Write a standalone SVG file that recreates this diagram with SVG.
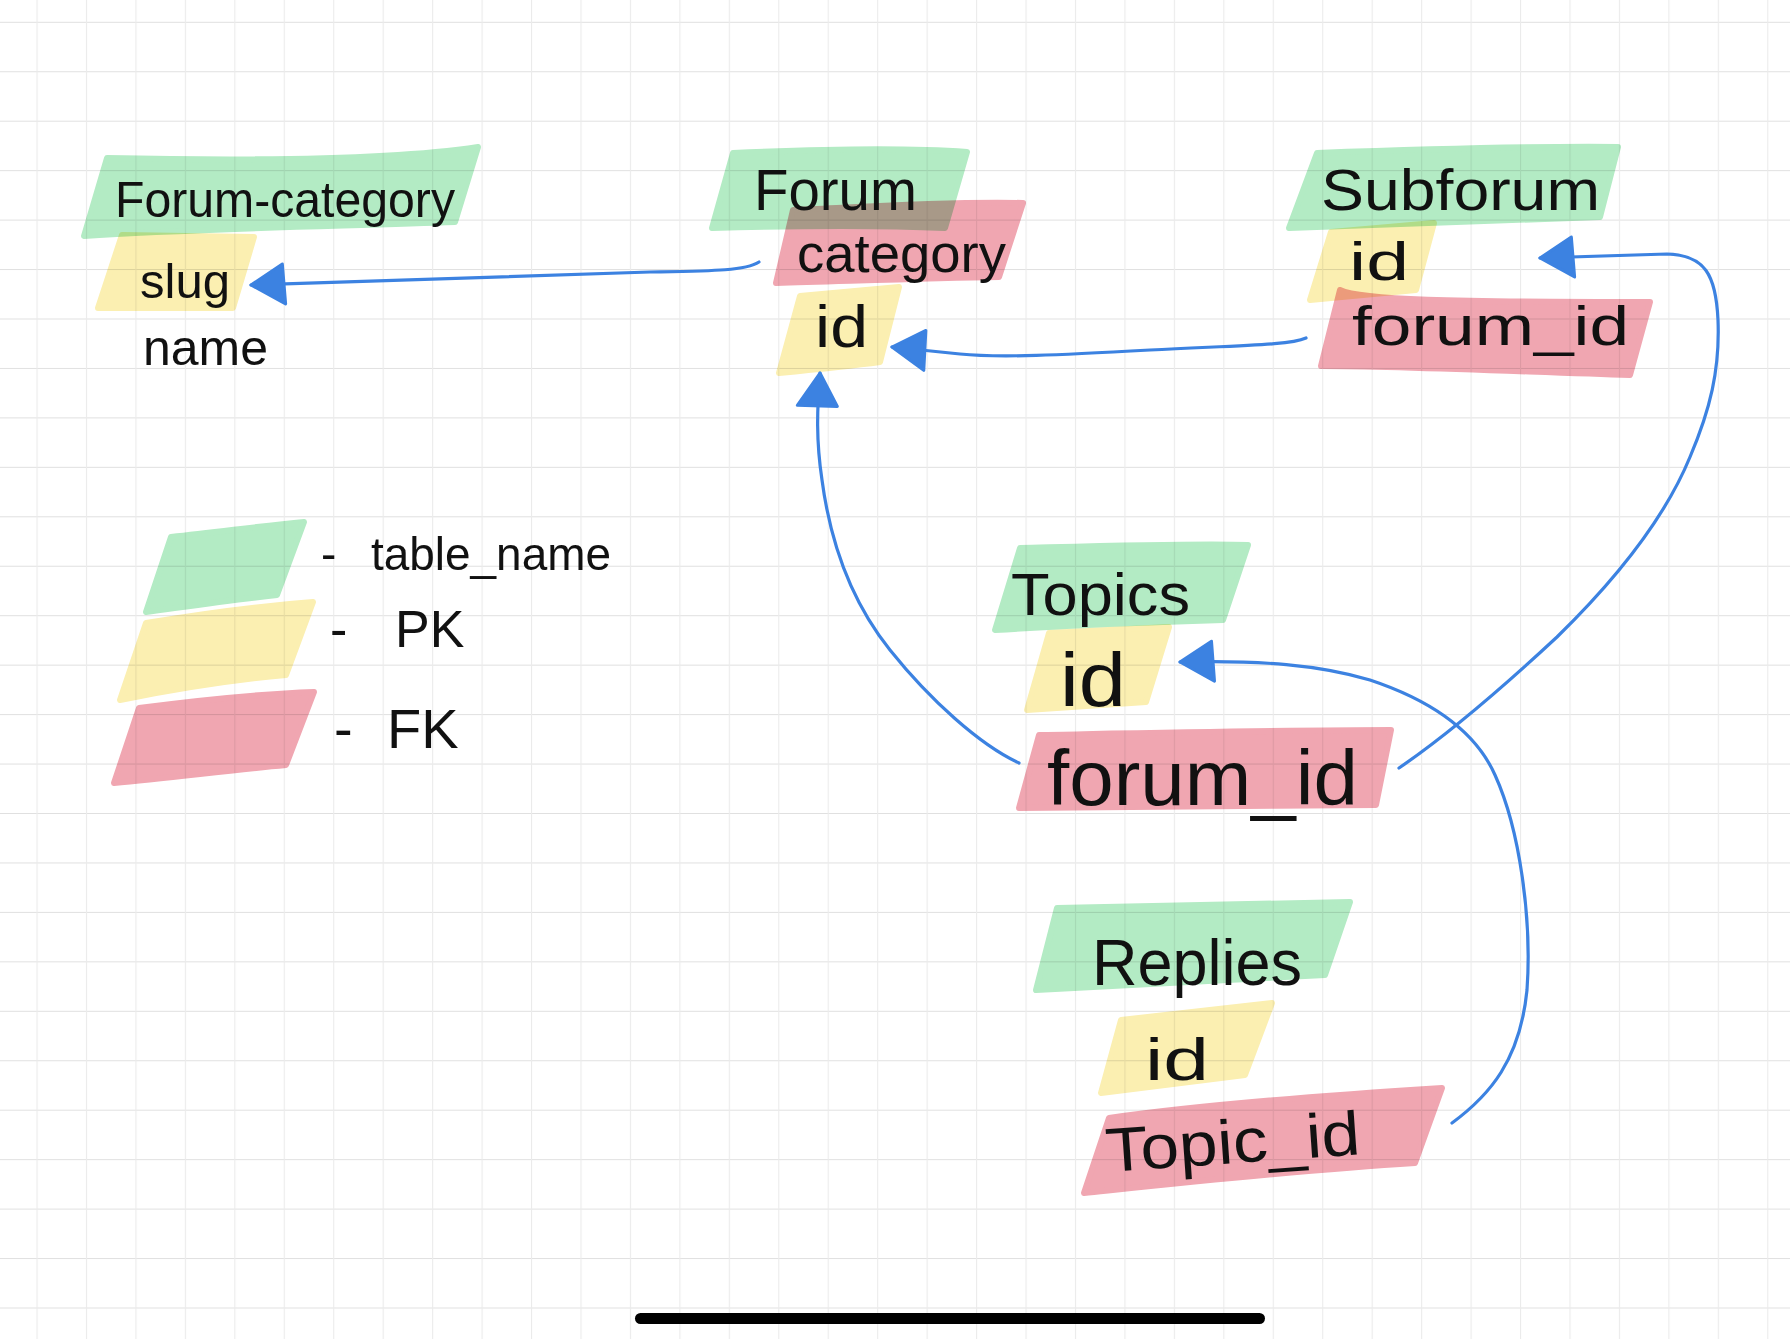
<svg xmlns="http://www.w3.org/2000/svg" width="1790" height="1339" viewBox="0 0 1790 1339">
<defs>
<pattern id="grid" x="36.5" y="21.8" width="49.45" height="49.45" patternUnits="userSpaceOnUse">
<path d="M0 0.5 H49.45" stroke="#e0e0e0" stroke-width="1.2" fill="none"/>
<path d="M0.5 0 V49.45" stroke="#ebebeb" stroke-width="1.2" fill="none"/>
</pattern>
<marker id="ah" viewBox="0 0 40 46" refX="38" refY="23" markerWidth="40" markerHeight="46" markerUnits="userSpaceOnUse" orient="auto">
<path d="M38 23 L4 3 L6 43 Z" fill="#3c82e1" stroke="#3c82e1" stroke-width="3" stroke-linejoin="round"/>
</marker>
<style>
.g{fill:#b3ebc4;mix-blend-mode:multiply;stroke:#b3ebc4;stroke-width:6;stroke-linejoin:round}
.y{fill:#fbefb1;mix-blend-mode:multiply;stroke:#fbefb1;stroke-width:6;stroke-linejoin:round}
.r{fill:#f0a6b1;mix-blend-mode:multiply;stroke:#f0a6b1;stroke-width:6;stroke-linejoin:round}
.t{font-family:"Liberation Sans",Arial,sans-serif;fill:#111}
.c{fill:none;stroke:#3c82e1;stroke-width:3.2;stroke-linecap:round;stroke-linejoin:round}
</style>
</defs>
<rect width="1790" height="1339" fill="#ffffff"/>
<rect width="1790" height="1339" fill="url(#grid)"/>

<g id="forum-category">
<path class="g" d="M107 158 C200 160 380 162 478 147 L455 222 C350 226 200 228 84 236 Z"/>
<path class="y" d="M122 235 L254 237 L233 308 L98 308 Z"/>
<text class="t" x="115" y="217" font-size="50" textLength="340" lengthAdjust="spacingAndGlyphs">Forum-category</text>
<text class="t" x="140" y="298" font-size="48" textLength="90" lengthAdjust="spacingAndGlyphs">slug</text>
<text class="t" x="143" y="365" font-size="50" textLength="125" lengthAdjust="spacingAndGlyphs">name</text>
</g>

<g id="forum">
<path class="g" d="M733 153 C800 150 900 147 967 152 L945 228 C880 225 780 226 712 228 Z"/>
<path class="r" d="M793 210 C860 207 950 201 1023 203 L999 277 C930 278 850 281 776 283 Z"/>
<path class="y" d="M800 296 L899 287 L880 362 C850 366 810 370 779 373 Z"/>
<text class="t" x="754" y="210" font-size="58" textLength="163" lengthAdjust="spacingAndGlyphs">Forum</text>
<text class="t" x="797" y="272" font-size="54" textLength="209" lengthAdjust="spacingAndGlyphs">category</text>
<text class="t" x="815" y="347" font-size="60" textLength="53" lengthAdjust="spacingAndGlyphs">id</text>
</g>

<g id="subforum">
<path class="g" d="M1317 153 C1400 150 1520 146 1618 147 L1600 217 C1500 220 1400 224 1289 228 Z"/>
<path class="y" d="M1331 232 L1434 223 L1416 290 L1310 300 Z"/>
<path class="r" d="M1340 290 C1360 300 1450 302 1650 302 L1630 375 C1530 372 1400 366 1321 366 Z"/>
<text class="t" x="1321" y="210" font-size="58" textLength="279" lengthAdjust="spacingAndGlyphs">Subforum</text>
<text class="t" x="1349" y="280" font-size="54" textLength="60" lengthAdjust="spacingAndGlyphs">id</text>
<text class="t" x="1352" y="345" font-size="56" textLength="277" lengthAdjust="spacingAndGlyphs">forum_id</text>
</g>

<g id="topics">
<path class="g" d="M1020 548 C1100 546 1200 543 1248 545 L1223 620 C1150 622 1060 626 995 630 Z"/>
<path class="y" d="M1049 633 L1169 627 L1146 702 L1027 710 Z"/>
<path class="r" d="M1039 735 C1150 733 1300 730 1391 730 L1376 805 C1250 806 1100 807 1019 808 Z"/>
<text class="t" x="1011" y="615" font-size="60" textLength="179" lengthAdjust="spacingAndGlyphs">Topics</text>
<text class="t" x="1060" y="706" font-size="76" textLength="66" lengthAdjust="spacingAndGlyphs">id</text>
<text class="t" x="1047" y="805" font-size="78" textLength="311" lengthAdjust="spacingAndGlyphs">forum_id</text>
</g>

<g id="replies">
<path class="g" d="M1057 908 C1150 906 1250 904 1350 902 L1325 975 C1230 980 1130 985 1036 990 Z"/>
<path class="y" d="M1121 1020 L1272 1003 L1245 1075 L1101 1093 Z"/>
<path class="r" d="M1109 1118 C1200 1105 1330 1095 1442 1088 L1415 1163 C1300 1170 1180 1183 1084 1193 Z"/>
<text class="t" x="1092" y="985" font-size="64" textLength="210" lengthAdjust="spacingAndGlyphs">Replies</text>
<text class="t" x="1145" y="1080" font-size="60" textLength="64" lengthAdjust="spacingAndGlyphs">id</text>
<text class="t" x="1107" y="1172" font-size="62" textLength="255" lengthAdjust="spacingAndGlyphs" transform="rotate(-4 1107 1172)">Topic_id</text>
</g>

<g id="legend">
<path class="g" d="M171 537 C220 532 260 526 304 522 L277 595 C230 600 190 606 146 612 Z"/>
<path class="y" d="M146 623 C200 614 260 606 313 602 L286 675 C230 680 170 690 120 700 Z"/>
<path class="r" d="M139 708 C200 700 260 694 314 692 L286 765 C230 770 170 778 114 783 Z"/>
<text class="t" font-size="46"><tspan x="321" y="570">-</tspan><tspan x="371" y="570" textLength="240" lengthAdjust="spacingAndGlyphs">table_name</tspan></text>
<text class="t" font-size="52"><tspan x="330" y="647">-</tspan><tspan x="395" y="647">PK</tspan></text>
<text class="t" font-size="56"><tspan x="334" y="748">-</tspan><tspan x="387" y="748">FK</tspan></text>
</g>

<g id="connectors">
<path class="c" marker-end="url(#ah)" d="M759 262 C745 271 710 271 650 272 L251 285"/>
<path class="c" marker-end="url(#ah)" d="M1306 338 C1290 345 1250 345 1150 350 C1060 355 1000 358 960 354 L892 347"/>
<path class="c" marker-end="url(#ah)" d="M1019 763 C980 745 930 700 890 650 C850 600 830 540 822 480 C816 440 817 410 820 373"/>
<path class="c" marker-end="url(#ah)" d="M1399 768 C1440 740 1500 690 1557 637 C1600 595 1660 530 1690 457 C1710 410 1720 370 1718 320 C1716 275 1705 255 1667 254 L1540 258"/>
<path class="c" marker-end="url(#ah)" d="M1452 1123 C1490 1095 1520 1060 1527 990 C1532 920 1520 830 1495 775 C1475 730 1430 700 1370 680 C1320 665 1260 660 1180 662"/>
</g>

<rect x="635" y="1313" width="630" height="11" rx="5.5" fill="#000"/>
</svg>
